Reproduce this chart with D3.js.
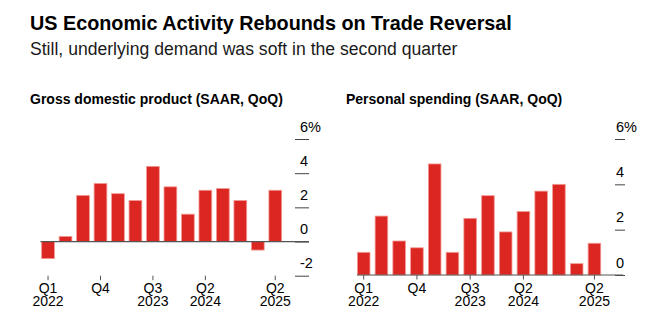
<!DOCTYPE html>
<html>
<head>
<meta charset="utf-8">
<script src="https://cdn.jsdelivr.net/npm/d3@7"></script>
<style>
  body { margin: 0; background: #fff; }
  text { font-family: "Liberation Sans", Arial, sans-serif; fill: #000; }
</style>
</head>
<body>
<div id="chart"></div>
<script>
// quarters shown in both panels
const quarters = ["2022Q1","2022Q2","2022Q3","2022Q4","2023Q1","2023Q2","2023Q3","2023Q4",
                  "2024Q1","2024Q2","2024Q3","2024Q4","2025Q1","2025Q2"];
// annualized q/q growth, %
const gdpValues = [-1.0, 0.3, 2.7, 3.4, 2.8, 2.4, 4.4, 3.2, 1.6, 3.0, 3.1, 2.4, -0.5, 3.0];
const spendingValues = [1.0, 2.6, 1.5, 1.2, 4.9, 1.0, 2.5, 3.5, 1.9, 2.8, 3.7, 4.0, 0.5, 1.4];
// x tick labels: quarter -> [line1, line2]
const xTickLabels = {
    "2022Q1": ["Q1", "2022"],
    "2022Q4": ["Q4", ""],
    "2023Q3": ["Q3", "2023"],
    "2024Q2": ["Q2", "2024"],
    "2025Q2": ["Q2", "2025"]
};
const gdpTicks = [6, 4, 2, 0, -2];
const spendingTicks = [6, 4, 2, 0];

const width = 663, height = 327;
const barColor = "#dc2621";

const svg = d3.select("#chart").append("svg")
    .attr("width", width)
    .attr("height", height);

svg.append("text")
    .attr("x", 30).attr("y", 30)
    .style("font-size", "19.8px").style("font-weight", "bold")
    .text("US Economic Activity Rebounds on Trade Reversal");

svg.append("text")
    .attr("x", 30).attr("y", 55)
    .style("font-size", "17.6px")
    .style("fill", "#1a1a1a")
    .text("Still, underlying demand was soft in the second quarter");

function drawPanel(cfg) {
    const g = svg.append("g");

    g.append("text")
        .attr("x", cfg.titleX).attr("y", 103.5)
        .style("font-size", "14px").style("font-weight", "bold")
        .text(cfg.title);

    const xScale = d3.scaleBand()
        .domain(quarters)
        .range(cfg.xRange)
        .paddingInner(cfg.pad)
        .paddingOuter(cfg.pad / 2);

    const yScale = d3.scaleLinear()
        .domain(cfg.yDomain)
        .range(cfg.yRange);

    // y ticks on the right, label above each tick
    const yAxis = g.append("g")
        .attr("transform", "translate(" + cfg.tickX + ",0)")
        .call(d3.axisRight(yScale).tickValues(cfg.ticks).tickSize(cfg.tickLen).tickFormat(""));
    yAxis.select(".domain").remove();
    yAxis.selectAll(".tick line").attr("stroke", "#444");

    g.selectAll(".yLabel")
        .data(cfg.ticks)
        .join("text")
        .attr("class", "yLabel")
        .attr("x", cfg.labelX)
        .attr("y", d => yScale(d) - 7.5)
        .style("font-size", "14.5px")
        .text(d => d === 6 ? "6%" : d);

    // bars
    g.selectAll(".bar")
        .data(cfg.values.map((v, i) => ({q: quarters[i], v: v})))
        .join("rect")
        .attr("class", "bar")
        .attr("x", d => xScale(d.q))
        .attr("width", xScale.bandwidth())
        .attr("y", d => yScale(Math.max(0, d.v)))
        .attr("height", d => Math.abs(yScale(d.v) - yScale(0)))
        .attr("fill", barColor)
        .attr("stroke", "#f29a94")
        .attr("stroke-width", 0.8);

    // zero line
    g.append("line")
        .attr("x1", cfg.zeroX[0]).attr("x2", cfg.zeroX[1])
        .attr("y1", yScale(0)).attr("y2", yScale(0))
        .attr("stroke", "#555")
        .attr("stroke-width", 1.2);

    // x ticks
    const xAxis = g.append("g")
        .attr("transform", "translate(0," + cfg.xAxisY + ")")
        .call(d3.axisBottom(xScale)
            .tickValues(Object.keys(xTickLabels))
            .tickSize(4.5)
            .tickFormat(""));
    xAxis.select(".domain").remove();
    xAxis.selectAll(".tick line").attr("stroke", "#555");

    const keys = Object.keys(xTickLabels);
    [0, 1].forEach(line => {
        g.selectAll(".xLabel" + line)
            .data(keys.filter(k => xTickLabels[k][line] !== ""))
            .join("text")
            .attr("class", "xLabel" + line)
            .attr("text-anchor", "middle")
            .attr("x", d => xScale(d) + xScale.bandwidth() / 2)
            .attr("y", line === 0 ? 292.5 : 305.8)
            .style("font-size", "14px")
            .text(d => xTickLabels[d][line]);
    });
}

drawPanel({
    title: "Gross domestic product (SAAR, QoQ)",
    titleX: 30,
    values: gdpValues,
    ticks: gdpTicks,
    xRange: [39.3, 39.3 + 14 * 17.48],
    pad: 0.27,
    yDomain: [-2, 6],
    yRange: [275.7, 139],
    tickX: 295, tickLen: 14, labelX: 300,
    zeroX: [40.5, 309],
    xAxisY: 275.7
});

drawPanel({
    title: "Personal spending (SAAR, QoQ)",
    titleX: 346,
    values: spendingValues,
    ticks: spendingTicks,
    xRange: [354.8, 354.8 + 14 * 17.75],
    pad: 0.29,
    yDomain: [0, 6],
    yRange: [275, 139],
    tickX: 615, tickLen: 10, labelX: 616,
    zeroX: [357, 623],
    xAxisY: 275
});
</script>
</body>
</html>
